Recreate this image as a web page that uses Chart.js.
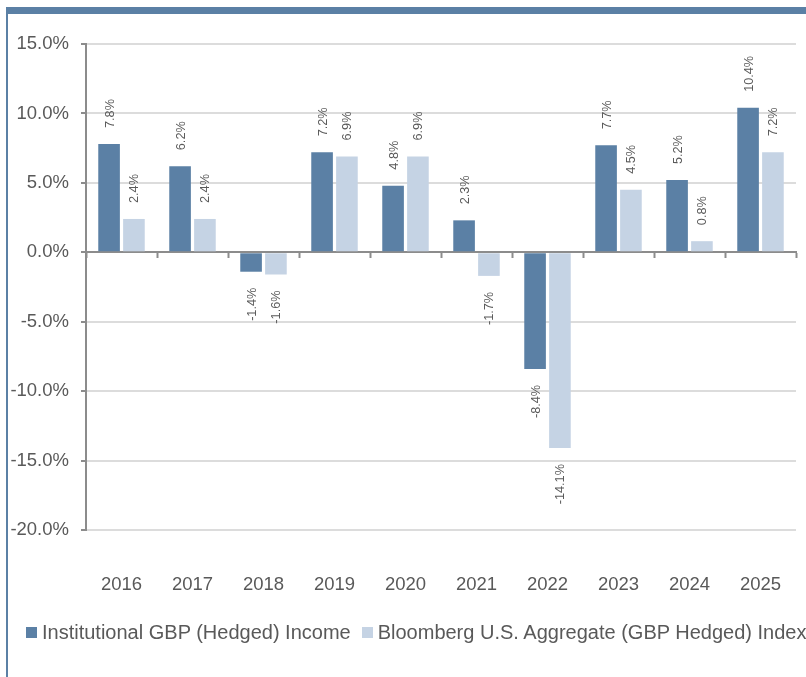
<!DOCTYPE html>
<html>
<head>
<meta charset="utf-8">
<script src="https://cdn.jsdelivr.net/npm/chart.js@4/dist/chart.umd.min.js"></script>
<style>
html,body{margin:0;padding:0;background:#fff;}
#wrap{position:relative;width:806px;height:677px;overflow:hidden;background:#fff;}
#topbar{position:absolute;left:6px;top:7px;width:800px;height:7px;background:#5b80a5;}
#leftbar{position:absolute;left:6px;top:7px;width:2px;height:670px;background:#5b80a5;}
canvas{position:absolute;left:0;top:0;}
#legend{position:absolute;left:26px;top:619px;height:26px;display:flex;align-items:center;font-family:"Liberation Sans",Arial,sans-serif;font-size:20px;color:#595959;white-space:nowrap;}
.item{display:flex;align-items:center;}
.item + .item{margin-left:11px;}
.box{width:11px;height:11px;margin-right:5px;flex:none;}
</style>
</head>
<body>
<div id="wrap">
  <canvas id="c" width="806" height="677"></canvas>
  <div id="topbar"></div>
  <div id="leftbar"></div>
  <div id="legend"></div>
</div>
<script>
const categories = ['2016','2017','2018','2019','2020','2021','2022','2023','2024','2025'];
const seriesNames = ['Institutional GBP (Hedged) Income', 'Bloomberg U.S. Aggregate (GBP Hedged) Index'];
const institutional = [7.8, 6.2, -1.4, 7.2, 4.8, 2.3, -8.4, 7.7, 5.2, 10.4];
const bloomberg = [2.4, 2.4, -1.6, 6.9, 6.9, -1.7, -14.1, 4.5, 0.8, 7.2];
const yMin = -20, yMax = 15, yStep = 5;

const FONT = '"Liberation Sans", Arial, sans-serif';
const TEXT = '#595959';
const AXIS = '#8c8c8c';
const GRID = '#dcdcdc';

const labelPlugin = {
  id: 'barLabels',
  afterDatasetsDraw(chart) {
    const ctx = chart.ctx;
    ctx.save();
    ctx.font = '12.7px ' + FONT;
    ctx.fillStyle = TEXT;
    ctx.textBaseline = 'middle';
    chart.data.datasets.forEach((ds, i) => {
      const meta = chart.getDatasetMeta(i);
      meta.data.forEach((bar, j) => {
        const v = ds.data[j];
        const txt = v.toFixed(1) + '%';
        ctx.save();
        if (v >= 0) {
          ctx.translate(bar.x + 1, bar.y - 16);
          ctx.rotate(-Math.PI / 2);
          ctx.textAlign = 'left';
        } else {
          ctx.translate(bar.x + 1, bar.y + 16);
          ctx.rotate(-Math.PI / 2);
          ctx.textAlign = 'right';
        }
        ctx.fillText(txt, 0, 0);
        ctx.restore();
      });
    });
    ctx.restore();
  }
};

const chart = new Chart(document.getElementById('c'), {
  type: 'bar',
  data: {
    labels: categories,
    datasets: [
      { label: seriesNames[0], data: institutional, backgroundColor: '#5b80a5', xAxisID: 'x', yAxisID: 'y' },
      { label: seriesNames[1], data: bloomberg, backgroundColor: '#c5d3e4', xAxisID: 'x', yAxisID: 'y' }
    ]
  },
  options: {
    responsive: false,
    animation: false,
    devicePixelRatio: 1,
    layout: { padding: { left: 10, right: 10, top: 44, bottom: 81 } },
    datasets: { bar: { categoryPercentage: 0.7, barPercentage: 0.87 } },
    plugins: { legend: { display: false }, tooltip: { enabled: false } },
    scales: {
      x: {
        type: 'category',
        position: 'bottom',
        offset: true,
        grid: { display: false, drawTicks: false },
        border: { display: false },
        ticks: { padding: 44, color: TEXT, font: { family: FONT, size: 18.5 }, maxRotation: 0 },
        afterFit: s => { s.height = 66; s.paddingLeft = 0; s.paddingRight = 0; }
      },
      x0: {
        type: 'category',
        axis: 'x',
        position: { y: 0 },
        offset: true,
        ticks: { display: false },
        grid: { offset: true, drawOnChartArea: false, drawTicks: true, tickLength: 5, tickWidth: 2, tickColor: AXIS, color: AXIS },
        border: { display: true, color: AXIS, width: 2 },
        afterFit: s => { s.paddingLeft = 0; s.paddingRight = 0; }
      },
      y: {
        min: yMin,
        max: yMax,
        ticks: {
          stepSize: yStep,
          padding: 12,
          color: TEXT,
          font: { family: FONT, size: 18.5 },
          callback: v => v.toFixed(1) + '%'
        },
        grid: {
          color: c => (c.tick && c.tick.value === 0) ? AXIS : GRID,
          lineWidth: 2,
          tickLength: 5,
          tickWidth: 2,
          tickColor: AXIS
        },
        border: { color: AXIS, width: 2 },
        afterFit: s => { s.width = 76; s.paddingTop = 0; s.paddingBottom = 0; }
      }
    }
  },
  plugins: [labelPlugin]
});

// HTML legend built from the chart's datasets
const legend = document.getElementById('legend');
chart.data.datasets.forEach(ds => {
  const item = document.createElement('div');
  item.className = 'item';
  const box = document.createElement('span');
  box.className = 'box';
  box.style.background = ds.backgroundColor;
  const t = document.createElement('span');
  t.textContent = ds.label;
  item.appendChild(box);
  item.appendChild(t);
  legend.appendChild(item);
});
</script>
</body>
</html>
